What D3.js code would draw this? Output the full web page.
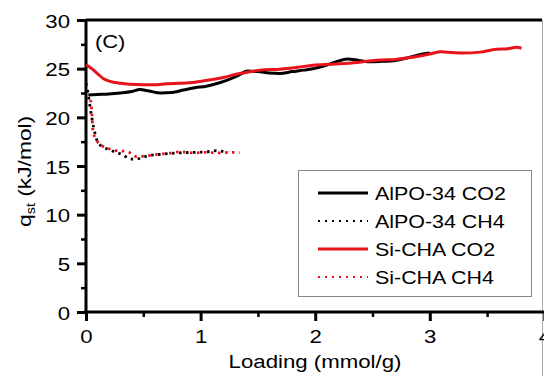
<!DOCTYPE html>
<html>
<head>
<meta charset="utf-8">
<script src="https://cdn.jsdelivr.net/npm/d3@7"></script>
<style>
html,body{margin:0;padding:0;background:#fff;}
svg{display:block;}
text{font-family:"Liberation Sans",Arial,sans-serif;fill:#000;}
</style>
</head>
<body>
<svg id="chart" width="544" height="376"></svg>
<script>
// ---- data ----
const alpoCO2_x = [0.02,0.1,0.2,0.3,0.4,0.47,0.55,0.65,0.75,0.85,0.95,1.05,1.15,1.25,1.32,1.41,1.5,1.6,1.69,1.8,1.9,1.98,2.08,2.18,2.28,2.38,2.48,2.58,2.7,2.8,2.9,3.0];
const alpoCO2_y = [22.3,22.35,22.4,22.5,22.65,22.85,22.7,22.5,22.55,22.8,23.05,23.2,23.5,23.9,24.25,24.75,24.7,24.55,24.5,24.7,24.85,25.0,25.3,25.7,26.0,25.85,25.7,25.75,25.85,26.1,26.4,26.6];
const siCO2_x = [0.0,0.05,0.1,0.15,0.21,0.3,0.38,0.5,0.6,0.7,0.82,0.95,1.11,1.2,1.32,1.4,1.52,1.69,1.85,1.98,2.13,2.28,2.45,2.57,2.7,2.86,3.0,3.1,3.2,3.29,3.44,3.58,3.68,3.76,3.8];
const siCO2_y = [25.4,25.0,24.5,24.0,23.7,23.5,23.4,23.35,23.35,23.45,23.5,23.6,23.9,24.1,24.45,24.6,24.85,24.95,25.15,25.35,25.45,25.55,25.75,25.9,25.95,26.2,26.5,26.75,26.65,26.6,26.7,27.0,27.05,27.2,27.1];
const alpoCH4_x = [0.0,0.01,0.02,0.03,0.05,0.07,0.1,0.14,0.2,0.26,0.33,0.38,0.43,0.5,0.56,0.65,0.75,0.85,0.95,1.05,1.14,1.24];
const alpoCH4_y = [23.5,23.0,22.3,21.5,20.0,18.8,17.5,17.0,16.7,16.4,16.1,15.7,15.7,15.9,16.1,16.2,16.3,16.37,16.4,16.45,16.57,16.4];
const siCH4_x = [0.04,0.05,0.06,0.08,0.1,0.12,0.18,0.24,0.3,0.36,0.44,0.5,0.62,0.72,0.82,0.95,1.05,1.15,1.25,1.34];
const siCH4_y = [21.8,20.6,18.7,17.9,17.5,17.2,16.9,16.6,16.55,16.5,15.96,16.0,16.2,16.3,16.45,16.35,16.4,16.35,16.4,16.37];

const seriesNames = ["AlPO-34 CO2","AlPO-34 CH4","Si-CHA CO2","Si-CHA CH4"];
const xTicks = [0,1,2,3,4];
const xMinor = [0.5,1.5,2.5,3.5];
const yTicks = [0,5,10,15,20,25,30];
const yMinor = [2.5,7.5,12.5,17.5,22.5,27.5];
const xTitle = "Loading (mmol/g)";
const panelLabel = "(C)";

// ---- layout ----
const RED = "#e8141c";
const SX = 1.17; // horizontal text stretch of the reference
const svg = d3.select("#chart");
const x = d3.scaleLinear().domain([0,4]).range([86,544.4]);
const y = d3.scaleLinear().domain([0,30]).range([312,20]);
const fmt = d3.format("d");

// frame top + right
svg.append("line").attr("x1",86).attr("x2",542).attr("y1",20).attr("y2",20)
  .attr("stroke","#000").attr("stroke-width",3);
svg.append("line").attr("x1",542.5).attr("x2",542.5).attr("y1",20).attr("y2",376)
  .attr("stroke","#aaa").attr("stroke-width",1);

// minor ticks
svg.append("g").attr("transform","translate(86,0)")
  .call(d3.axisLeft(y).tickValues(yMinor).tickSize(5).tickSizeOuter(0).tickFormat(""))
  .call(g=>g.select(".domain").remove())
  .call(g=>g.selectAll("line").attr("stroke-width",2.5));
svg.append("g").attr("transform","translate(0,312)")
  .call(d3.axisBottom(x).tickValues(xMinor).tickSize(5).tickSizeOuter(0).tickFormat(""))
  .call(g=>g.select(".domain").remove())
  .call(g=>g.selectAll("line").attr("stroke-width",2.5));

// major axes
const gy = svg.append("g").attr("transform","translate(86,0)")
  .call(d3.axisLeft(y).tickValues(yTicks).tickFormat(fmt).tickSize(9).tickSizeOuter(0).tickPadding(7));
gy.select(".domain").remove();
gy.selectAll("line").attr("stroke-width",3);
gy.selectAll("text").attr("font-size",19).attr("font-family",'"Liberation Sans",Arial,sans-serif')
  .attr("x",-16/SX).attr("dy","0.37em").attr("transform",`scale(${SX},1)`);

const gx = svg.append("g").attr("transform","translate(0,312)")
  .call(d3.axisBottom(x).tickValues(xTicks).tickFormat(fmt).tickSize(9).tickSizeOuter(0).tickPadding(8.5));
gx.select(".domain").remove();
gx.selectAll("line").attr("stroke-width",3);
gx.selectAll("text").attr("font-size",19).attr("font-family",'"Liberation Sans",Arial,sans-serif')
  .attr("transform",`scale(${SX},1)`).attr("x",0);

// axis lines
svg.append("line").attr("x1",86).attr("x2",86).attr("y1",20).attr("y2",313.5)
  .attr("stroke","#000").attr("stroke-width",3);
svg.append("line").attr("x1",84.5).attr("x2",544).attr("y1",312).attr("y2",312)
  .attr("stroke","#000").attr("stroke-width",3);

// titles
svg.append("text").attr("transform",`translate(315,368) scale(${SX},1)`)
  .attr("text-anchor","middle").attr("font-size",19).text(xTitle);
const yt = svg.append("text").attr("transform",`translate(31,227) rotate(-90) scale(1.2,1)`)
  .attr("font-size",19);
yt.append("tspan").text("q");
yt.append("tspan").attr("font-size",12).attr("dy",4).text("st");
yt.append("tspan").attr("dy",-4).text(" (kJ/mol)");

svg.append("text").attr("transform",`translate(95,48) scale(1.15,1)`)
  .attr("font-size",19).text(panelLabel);

// lines
const line = d3.line().x(d=>x(d[0])).y(d=>y(d[1])).curve(d3.curveMonotoneX);
const zip = (a,b)=>a.map((v,i)=>[v,b[i]]);
const series = [
  {name:seriesNames[0], data:zip(alpoCO2_x,alpoCO2_y), color:"#000", dash:null, w:3},
  {name:seriesNames[1], data:zip(alpoCH4_x,alpoCH4_y), color:"#000", dash:"2.5 4.5", w:2.8},
  {name:seriesNames[2], data:zip(siCO2_x,siCO2_y), color:RED, dash:null, w:3},
  {name:seriesNames[3], data:zip(siCH4_x,siCH4_y), color:RED, dash:"2.5 4.5", w:2.8}
];
const drawOrder = [1,0,3,2];
drawOrder.forEach(i=>{
  const s = series[i];
  svg.append("path").attr("d",line(s.data)).attr("fill","none")
    .attr("stroke",s.color).attr("stroke-width",s.w)
    .attr("stroke-dasharray",s.dash).attr("stroke-linejoin","round");
});

// legend
svg.append("rect").attr("x",298.5).attr("y",170.5).attr("width",233).attr("height",126)
  .attr("fill","#fff").attr("stroke","#888").attr("stroke-width",1);
series.forEach((s,i)=>{
  const cy = 193 + i*28;
  svg.append("line").attr("x1",318).attr("x2",368).attr("y1",cy).attr("y2",cy)
    .attr("stroke",s.color).attr("stroke-width",s.dash?2.2:3)
    .attr("stroke-dasharray",s.dash?"2 5":null);
  svg.append("text").attr("transform",`translate(375,${cy+6.5}) scale(1.19,1)`)
    .attr("font-size",18).text(s.name);
});
</script>
</body>
</html>
